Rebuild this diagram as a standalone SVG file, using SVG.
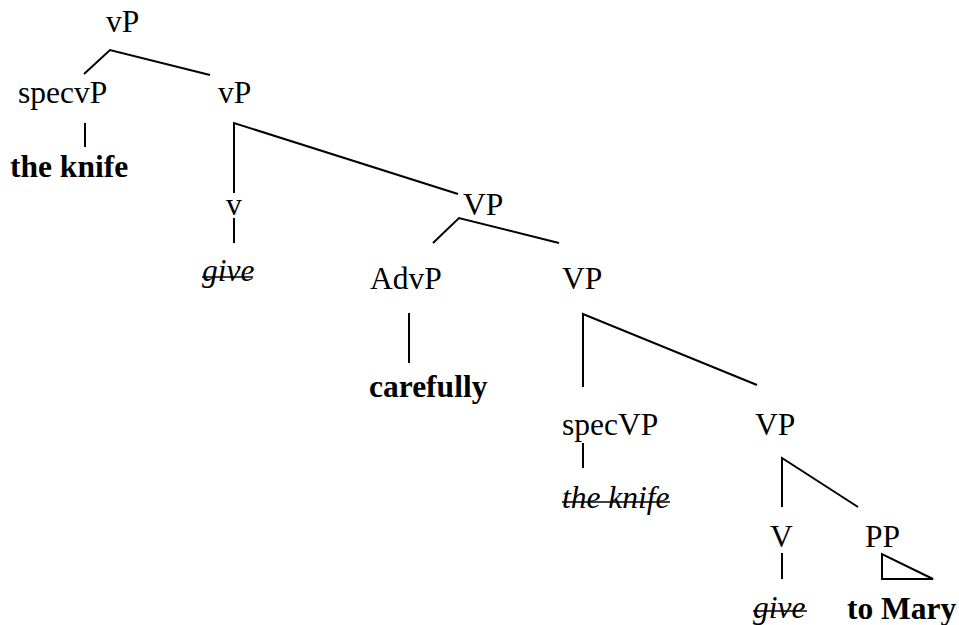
<svg xmlns="http://www.w3.org/2000/svg" width="959" height="625" viewBox="0 0 959 625">
  <style>
    text { font-family: "Liberation Serif", "Times New Roman", serif; font-size: 31.5px; fill: #000; }
    .b { font-weight: bold; }
    .i { font-style: italic; }
    .edge { stroke: #000; stroke-width: 2; fill: none; stroke-linecap: butt; }
    .strike { stroke: #000; stroke-width: 1.6; }
  </style>
  <rect width="959" height="625" fill="#fff"/>

  <!-- branches -->
  <g id="connectors" class="edge">
    <polyline points="84,74 110,50 210,75"/>
    <line x1="85" y1="123" x2="85" y2="147"/>
    <polyline points="234,193 234,123 458,194"/>
    <line x1="234" y1="218" x2="234" y2="243"/>
    <polyline points="433,243 459,218 559,243"/>
    <line x1="409" y1="313" x2="409" y2="363"/>
    <polyline points="583,387 583,314 757,385"/>
    <line x1="583" y1="443" x2="583" y2="468"/>
    <polyline points="782,507 782,458 858,507"/>
    <line x1="782" y1="553" x2="782" y2="579"/>
    <polygon points="882,554 882,579 933,579"/>
  </g>

  <!-- nodes -->
  <g id="n-vP-top"><text x="106" y="32">vP</text></g>
  <g id="n-specvP"><text x="18" y="103">specvP</text></g>
  <g id="n-vP-bar"><text x="218" y="103">vP</text></g>
  <g id="n-knife-1"><text class="b" x="10" y="177">the knife</text></g>
  <g id="n-v"><text x="226" y="215">v</text></g>
  <g id="n-VP-1"><text x="463" y="215">VP</text></g>
  <g id="n-give-1">
    <text class="i" x="202" y="281">give</text>
    <line class="strike" x1="202" y1="277" x2="253" y2="277"/>
  </g>
  <g id="n-AdvP"><text x="370" y="289">AdvP</text></g>
  <g id="n-VP-2"><text x="562" y="289">VP</text></g>
  <g id="n-carefully"><text class="b" x="369" y="397">carefully</text></g>
  <g id="n-specVP"><text x="562" y="435">specVP</text></g>
  <g id="n-VP-3"><text x="755" y="435">VP</text></g>
  <g id="n-knife-2">
    <text class="i" x="562" y="508">the knife</text>
    <line class="strike" x1="562" y1="502" x2="670" y2="502"/>
  </g>
  <g id="n-V"><text x="770" y="547">V</text></g>
  <g id="n-PP"><text x="865" y="547">PP</text></g>
  <g id="n-give-2">
    <text class="i" x="753" y="618">give</text>
    <line class="strike" x1="753" y1="611" x2="807" y2="611"/>
  </g>
  <g id="n-toMary"><text class="b" x="847" y="619">to Mary</text></g>
</svg>
